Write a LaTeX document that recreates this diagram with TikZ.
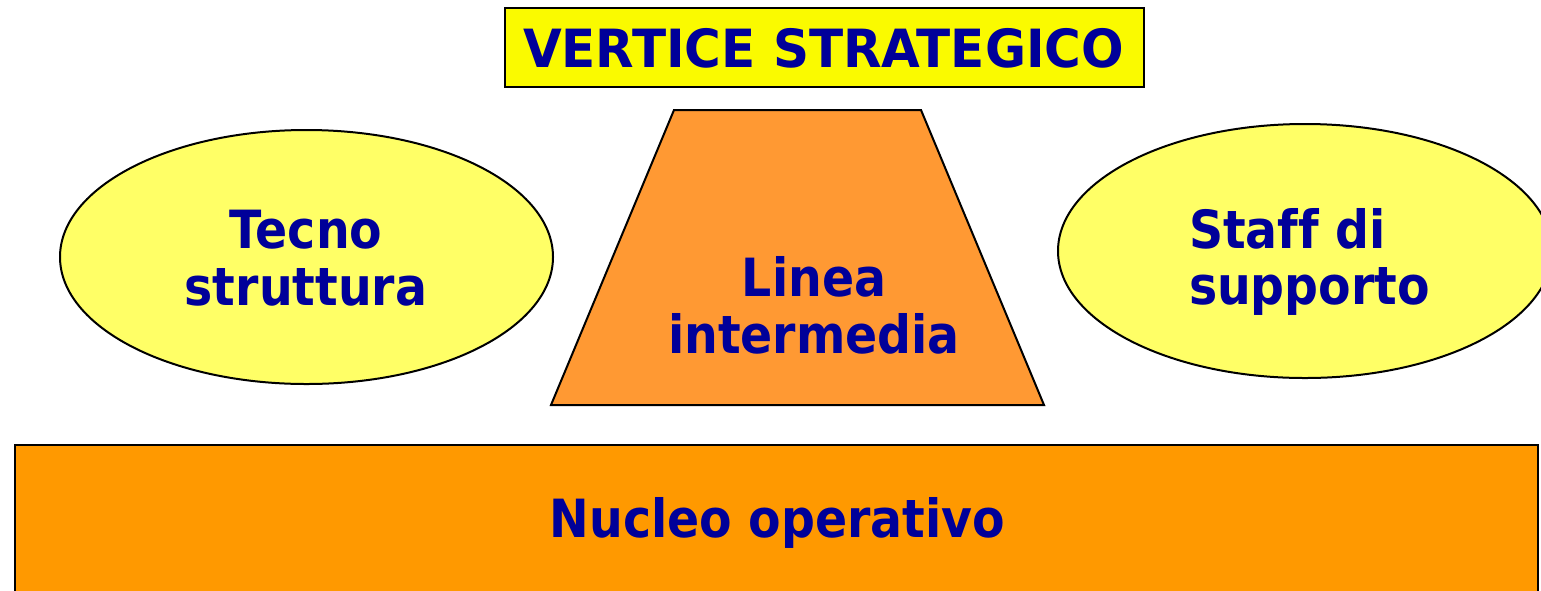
\documentclass[tikz,border=0pt]{standalone}
\usepackage{fontspec}
\setmainfont[FakeStretch=0.9,Ligatures={NoCommon}]{DejaVu Sans}
\newfontfamily\widefont[FakeStretch=0.95,Ligatures={NoCommon}]{DejaVu Sans}
\usetikzlibrary{shapes.geometric}
\definecolor{txtblue}{HTML}{000099}
\definecolor{topyellow}{HTML}{FAFA00}
\definecolor{ellyellow}{HTML}{FFFF66}
\definecolor{trapor}{HTML}{FF9933}
\definecolor{baseor}{HTML}{FF9900}
\tikzset{
  lbl/.style={text=txtblue, font=\fontsize{39.5}{42.5}\selectfont\bfseries, inner sep=0pt, outer sep=0pt},
  ell/.style={ellipse, draw=black, line width=1.5pt, fill=ellyellow, inner sep=0pt},
}
\begin{document}
\begin{tikzpicture}[x=0.75pt,y=-0.75pt]
\useasboundingbox (0,0) rectangle (1541,590);
\clip (0,0) rectangle (1541,590);
% bottom rectangle
\draw[fill=baseor, draw=black, line width=1.5pt] (15,445) rectangle (1538,610);
\node[lbl, anchor=base] (nucleo) at (777.5,537) {Nucleo operativo};
% top box
\node[draw=black, line width=0.9pt, fill=topyellow, minimum width=639*0.75pt, minimum height=79*0.75pt, inner sep=0pt] (vbox) at (824.5,47.5) {};
\node[lbl, anchor=base, font=\fontsize{39.5}{42.5}\widefont\bfseries] (vertice) at (823.5,67) {VERTICE STRATEGICO};
% ellipses
\node[ell, minimum width=493*0.75pt, minimum height=254*0.75pt] (tecnoell) at (306.5,257) {};
\node[lbl, align=center] (tecno) at (306,258) {Tecno\\struttura};
\node[ell, minimum width=494*0.75pt, minimum height=254*0.75pt] (staffell) at (1305,251) {};
\node[lbl, align=left, anchor=west] (staff) at (1189,262) {Staff di\\supporto};
% trapezoid
\coordinate (tl) at (674,110);
\coordinate (tr) at (921,110);
\coordinate (br) at (1044,405);
\coordinate (bl) at (551,405);
\draw[fill=trapor, draw=black, line width=1.5pt, line join=miter] (tl) -- (tr) -- (br) -- (bl) -- cycle;
\node[lbl, align=center] (linea) at (814,305.5) {Linea\\intermedia};
\end{tikzpicture}
\end{document}
